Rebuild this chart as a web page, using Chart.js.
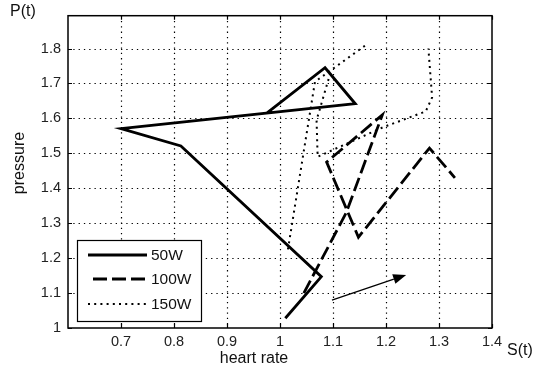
<!DOCTYPE html>
<html><head><meta charset="utf-8">
<script src="https://cdn.jsdelivr.net/npm/chart.js@4.4.1/dist/chart.umd.min.js"></script>
<style>html,body{margin:0;padding:0;background:#fff;}#wrap{width:533px;height:371px;}</style>
</head><body><div id="wrap"><canvas id="c" width="533" height="371"></canvas></div>
<script>
// ---- data ----
const xTicks = [0.7, 0.8, 0.9, 1.0, 1.1, 1.2, 1.3, 1.4];
const yTicks = [1.0, 1.1, 1.2, 1.3, 1.4, 1.5, 1.6, 1.7, 1.8];
const seriesNames = ['50W', '100W', '150W'];

const s50x = [0.975, 1.085, 1.142, 0.700, 0.813, 1.078, 1.010];
const s50y = [1.615, 1.745, 1.642, 1.571, 1.521, 1.147, 1.028];

const s100x = [1.045, 1.125, 1.193, 1.088, 1.148, 1.282, 1.330];
const s100y = [1.100, 1.330, 1.610, 1.475, 1.260, 1.515, 1.430];

const s150x = [1.015, 1.066, 1.161, null, 1.095, 1.069, 1.071, 1.195, 1.275, 1.287, 1.280];
const s150y = [1.225, 1.705, 1.809, null, 1.730, 1.595, 1.490, 1.575, 1.620, 1.660, 1.800];

const arrowX = [1.098, 1.238];
const arrowY = [1.080, 1.152];

const FONT = '"Liberation Sans", Arial, sans-serif';
const toPts = (xs, ys) => xs.map((v, i) => ({x: v, y: ys[i]}));

const styles = [
  {borderDash: [], borderWidth: 2.8},
  {borderDash: [14, 5], borderWidth: 2.8},
  {borderDash: [2, 4.2], borderWidth: 2}
];

const framePlugin = {
  id: 'frame',
  beforeDatasetsDraw(chart) {
    const {ctx, chartArea: a, scales: {x, y}} = chart;
    ctx.save();
    ctx.strokeStyle = '#000';
    ctx.lineWidth = 1.2;
    ctx.setLineDash([1.3, 4]);
    xTicks.forEach(v => {
      const px = Math.round(x.getPixelForValue(v)) + 0.5;
      if (px > a.left + 2 && px < a.right - 2) {
        ctx.beginPath(); ctx.moveTo(px, a.top); ctx.lineTo(px, a.bottom); ctx.stroke();
      }
    });
    yTicks.forEach(v => {
      const py = Math.round(y.getPixelForValue(v)) + 0.5;
      if (py > a.top + 2 && py < a.bottom - 2) {
        ctx.beginPath(); ctx.moveTo(a.left, py); ctx.lineTo(a.right, py); ctx.stroke();
      }
    });
    ctx.restore();
  },
  afterDatasetsDraw(chart) {
    const {ctx, chartArea: a, scales: {x, y}} = chart;
    ctx.save();
    ctx.setLineDash([]);
    ctx.strokeStyle = '#000';
    ctx.lineWidth = 1.5;
    ctx.strokeRect(a.left, a.top, a.right - a.left, a.bottom - a.top);
    ctx.lineWidth = 1.2;
    const L = 4;
    xTicks.forEach(v => {
      const px = Math.round(x.getPixelForValue(v)) + 0.5;
      ctx.beginPath();
      ctx.moveTo(px, a.bottom); ctx.lineTo(px, a.bottom - L);
      ctx.moveTo(px, a.top); ctx.lineTo(px, a.top + L);
      ctx.stroke();
    });
    yTicks.forEach(v => {
      const py = Math.round(y.getPixelForValue(v)) + 0.5;
      ctx.beginPath();
      ctx.moveTo(a.left, py); ctx.lineTo(a.left + L, py);
      ctx.moveTo(a.right, py); ctx.lineTo(a.right - L, py);
      ctx.stroke();
    });
    // arrow annotation
    const x0 = x.getPixelForValue(arrowX[0]), y0 = y.getPixelForValue(arrowY[0]);
    const x1 = x.getPixelForValue(arrowX[1]), y1 = y.getPixelForValue(arrowY[1]);
    const ang = Math.atan2(y1 - y0, x1 - x0);
    const hl = 13, hw = 5;
    const bx = x1 - hl * Math.cos(ang), by = y1 - hl * Math.sin(ang);
    ctx.lineWidth = 1.3;
    ctx.beginPath(); ctx.moveTo(x0, y0); ctx.lineTo(bx, by); ctx.stroke();
    ctx.fillStyle = '#000';
    ctx.beginPath();
    ctx.moveTo(x1, y1);
    ctx.lineTo(bx + hw * Math.sin(ang), by - hw * Math.cos(ang));
    ctx.lineTo(bx - hw * Math.sin(ang), by + hw * Math.cos(ang));
    ctx.closePath(); ctx.fill();
    ctx.restore();
  }
};

const legendPlugin = {
  id: 'boxLegend',
  afterDatasetsDraw(chart) {
    const {ctx} = chart;
    ctx.save();
    const bx = 77.5, by = 240.5, bw = 124, bh = 81;
    ctx.fillStyle = '#fff';
    ctx.fillRect(bx, by, bw, bh);
    ctx.strokeStyle = '#000'; ctx.lineWidth = 1.2; ctx.setLineDash([]);
    ctx.strokeRect(bx, by, bw, bh);
    const rows = [255, 279, 304];
    seriesNames.forEach((name, i) => {
      ctx.save();
      ctx.strokeStyle = '#000';
      ctx.lineWidth = styles[i].borderWidth;
      ctx.setLineDash(styles[i].borderDash);
      ctx.beginPath();
      ctx.moveTo(i === 1 ? 93 : 88, rows[i]); ctx.lineTo(147, rows[i]); ctx.stroke();
      ctx.restore();
      ctx.fillStyle = '#111';
      ctx.font = '15.5px ' + FONT;
      ctx.textAlign = 'left'; ctx.textBaseline = 'middle';
      ctx.fillText(name, 151, rows[i] + 1);
    });
    ctx.restore();
  }
};

const textPlugin = {
  id: 'texts',
  afterDraw(chart) {
    const {ctx} = chart;
    ctx.save();
    ctx.fillStyle = '#111';
    ctx.font = '16px ' + FONT;
    ctx.textBaseline = 'middle';
    ctx.textAlign = 'left';
    ctx.fillText('P(t)', 10, 12);
    ctx.fillText('S(t)', 507, 351);
    ctx.textAlign = 'center';
    ctx.fillText('heart rate', 254, 359);
    ctx.translate(20, 163);
    ctx.rotate(-Math.PI / 2);
    ctx.fillText('pressure', 0, 0);
    ctx.restore();
  }
};

const fmt = v => String(Math.round(v * 10) / 10);

new Chart(document.getElementById('c'), {
  type: 'scatter',
  data: {
    datasets: [
      {label: seriesNames[0], data: toPts(s50x, s50y)},
      {label: seriesNames[1], data: toPts(s100x, s100y)},
      {label: seriesNames[2], data: toPts(s150x, s150y)}
    ].map((d, i) => Object.assign(d, {
      showLine: true, borderColor: '#000', backgroundColor: '#000',
      borderWidth: styles[i].borderWidth, borderDash: styles[i].borderDash,
      pointRadius: 0, pointHoverRadius: 0, tension: 0, spanGaps: false,
      borderCapStyle: 'butt', borderJoinStyle: 'miter'
    }))
  },
  options: {
    responsive: false,
    animation: false,
    devicePixelRatio: 1,
    events: [],
    layout: {padding: {top: 15, right: 41, bottom: 0, left: 0}},
    plugins: {legend: {display: false}, tooltip: {enabled: false}},
    scales: {
      x: {
        type: 'linear', min: 0.6, max: 1.4,
        afterBuildTicks: s => { s.ticks = xTicks.map(v => ({value: v})); },
        afterFit: s => { s.height = 43; },
        grid: {display: false, drawTicks: false},
        border: {display: false},
        ticks: {padding: 5, color: '#222', font: {family: FONT, size: 14.5}, callback: fmt, maxRotation: 0, autoSkip: false}
      },
      y: {
        type: 'linear', min: 1.0, max: 1.894,
        afterBuildTicks: s => { s.ticks = yTicks.map(v => ({value: v})); },
        afterFit: s => { s.width = 68; },
        grid: {display: false, drawTicks: false},
        border: {display: false},
        ticks: {padding: 7, color: '#222', font: {family: FONT, size: 14.5}, callback: fmt, autoSkip: false}
      }
    }
  },
  plugins: [framePlugin, legendPlugin, textPlugin]
});
</script>
</body></html>
